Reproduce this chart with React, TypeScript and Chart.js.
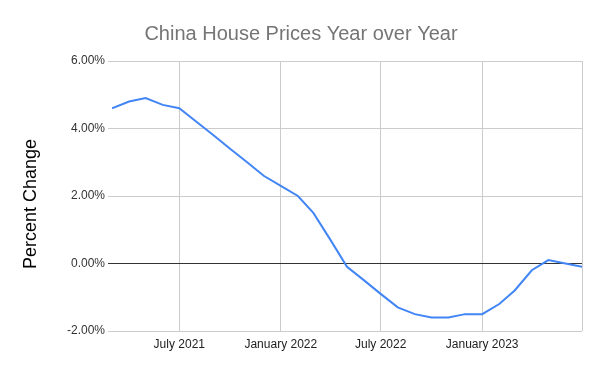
import React, { useEffect, useRef } from "react";
import { Chart, registerables } from "chart.js";

Chart.register(...registerables);

const chartTitle = "China House Prices Year over Year";
const yAxisTitle = "Percent Change";
const months: string[] = [
  "2021-03", "2021-04", "2021-05", "2021-06", "2021-07", "2021-08", "2021-09", "2021-10",
  "2021-11", "2021-12", "2022-01", "2022-02", "2022-03", "2022-04", "2022-05", "2022-06",
  "2022-07", "2022-08", "2022-09", "2022-10", "2022-11", "2022-12", "2023-01", "2023-02",
  "2023-03", "2023-04", "2023-05", "2023-06", "2023-07",
];
const yoyChange: number[] = [
  4.6, 4.8, 4.9, 4.7, 4.6, 4.2, 3.8, 3.4,
  3.0, 2.6, 2.3, 2.0, 1.5, 0.7, -0.1, -0.5,
  -0.9, -1.3, -1.5, -1.6, -1.6, -1.5, -1.5, -1.2,
  -0.8, -0.2, 0.1, 0.0, -0.1,
];
const tickMonths: string[] = ["2021-07", "2022-01", "2022-07", "2023-01"];
const tickLabels: string[] = ["July 2021", "January 2022", "July 2022", "January 2023"];
const yTicks: number[] = [-2, 0, 2, 4, 6];

const toDay = (m: string) => {
  const [y, mo] = m.split("-").map(Number);
  return Date.UTC(y, mo - 1, 1) / 86400000;
};

const titlePlugin = {
  id: "pageTitle",
  afterDraw(chart: any) {
    const ctx = chart.ctx;
    ctx.save();
    ctx.font = "20px 'Liberation Sans', Arial, sans-serif";
    ctx.fillStyle = "#757575";
    ctx.textAlign = "center";
    ctx.textBaseline = "alphabetic";
    ctx.fillText(chartTitle, 301, 39.5);
    ctx.translate(31, 204);
    ctx.rotate(-Math.PI / 2);
    ctx.font = "18px 'Liberation Sans', Arial, sans-serif";
    ctx.fillStyle = "#000";
    ctx.textBaseline = "middle";
    ctx.fillText(yAxisTitle, 0, 0);
    ctx.restore();
  },
};

export default function App() {
  const ref = useRef<HTMLCanvasElement>(null);
  useEffect(() => {
    document.body.style.margin = "0";
    const xMin = toDay(months[0]);
    const xMax = toDay(months[months.length - 1]);
    const tickDays = tickMonths.map(toDay);
    const chart = new Chart(ref.current!, {
      type: "line",
      data: {
        datasets: [
          {
            data: months.map((m, i) => ({ x: toDay(m), y: yoyChange[i] })),
            borderColor: "#4285F4",
            borderWidth: 2,
            pointRadius: 0,
            tension: 0,
            fill: false,
          },
        ],
      },
      plugins: [titlePlugin],
      options: {
        responsive: false,
        animation: false,
        layout: { padding: { left: 0, right: 18, top: 61, bottom: 0 } },
        plugins: {
          legend: { display: false },
          tooltip: { enabled: false },
          title: { display: false },
        },
        scales: {
          x: {
            type: "linear",
            min: xMin,
            max: xMax,
            afterBuildTicks: (s: any) => {
              s.ticks = [...tickDays, xMax].map((v) => ({ value: v }));
            },
            afterFit: (s: any) => {
              s.height = 40;
            },
            ticks: {
              autoSkip: false,
              maxRotation: 0,
              color: "#222",
              padding: 6,
              font: { family: "Liberation Sans, Arial, sans-serif", size: 12 },
              callback: (v: any) => {
                const i = tickDays.indexOf(Number(v));
                return i >= 0 ? tickLabels[i] : "";
              },
            },
            grid: { color: "#cccccc", drawTicks: false, lineWidth: 1 },
            border: { display: false },
          },
          y: {
            min: -2,
            max: 6,
            afterBuildTicks: (s: any) => {
              s.ticks = yTicks.map((v) => ({ value: v }));
            },
            afterFit: (s: any) => {
              s.width = 112;
            },
            ticks: {
              color: "#333",
              padding: 3,
              font: { family: "Liberation Sans, Arial, sans-serif", size: 12 },
              callback: (v: any) => Number(v).toFixed(2) + "%",
            },
            grid: {
              color: (c: any) => (c.tick && c.tick.value === 0 ? "#333333" : "#cccccc"),
              drawTicks: true,
              tickLength: 4,
              lineWidth: 1,
            },
            border: { display: false },
            title: { display: false },
          },
        },
      },
    });
    return () => chart.destroy();
  }, []);
  return <canvas ref={ref} width={600} height={371} style={{ display: "block" }} />;
}
